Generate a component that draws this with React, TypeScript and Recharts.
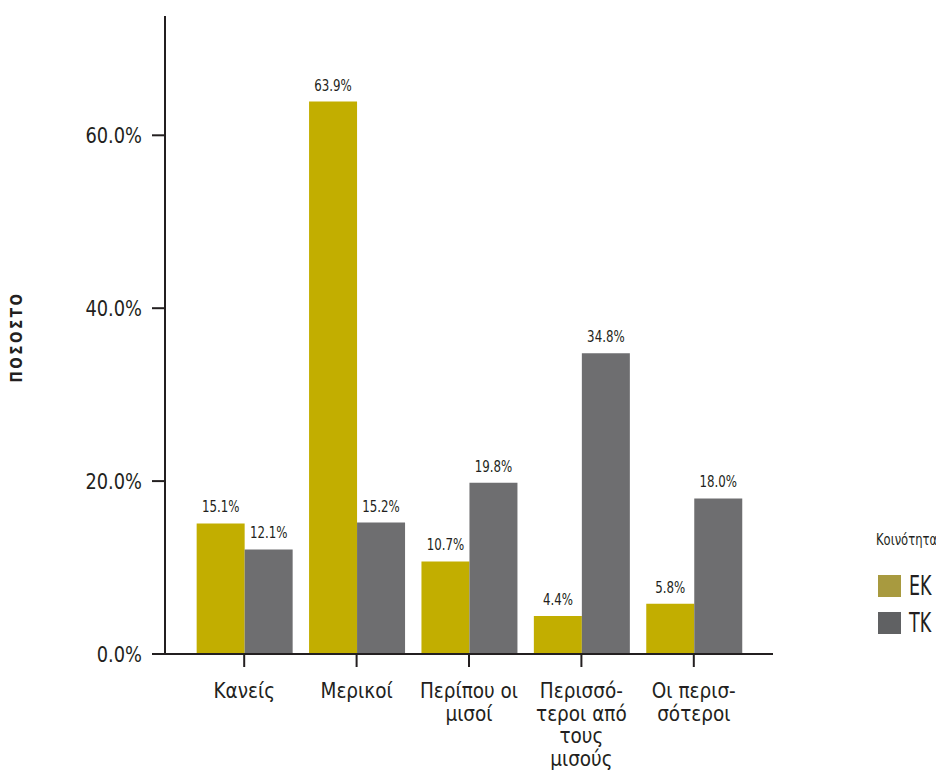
import React from "react";
import { BarChart, Bar, XAxis, YAxis, LabelList } from "recharts";

// Response categories (full names) and how they wrap under the axis
const categories = [
  "Κανείς",
  "Μερικοί",
  "Περίπου οι μισοί",
  "Περισσότεροι από τους μισούς",
  "Οι περισσότεροι",
];
const categoryLines = [
  ["Κανείς"],
  ["Μερικοί"],
  ["Περίπου οι", "μισοί"],
  ["Περισσό-", "τεροι από", "τους", "μισούς"],
  ["Οι περισ-", "σότεροι"],
];

// Percentages per community
const ekValues = [15.1, 63.9, 10.7, 4.4, 5.8];
const tkValues = [12.1, 15.2, 19.8, 34.8, 18.0];

const yTicks = [0, 20, 40, 60];
const yMax = 73.8;

const seriesNames = ["ΕΚ", "ΤΚ"];
const legendTitle = "Κοινότητα";
const yTitle = "ΠΟΣΟΣΤΟ";

const FONT = "'DejaVu Sans Condensed', 'Liberation Sans Narrow', sans-serif";
const INK = "#231f20";
const EK_COLOR = "#c2ae00";
const TK_COLOR = "#6e6e70";
const EK_SWATCH = "#a89a3f";
const TK_SWATCH = "#606163";

const data = categories.map((c, i) => ({
  name: c,
  ek: ekValues[i],
  tk: tkValues[i],
}));

const pct = (v: any) => `${Number(v).toFixed(1)}%`;

// Narrowed text: scales glyphs horizontally around the anchor point
function NarrowText(props: any) {
  const { x, y, scale, children, ...rest } = props;
  return (
    <g transform={`translate(${x},${y}) scale(${scale},1)`}>
      <text x={0} y={0} fill={INK} fontFamily={FONT} {...rest}>
        {children}
      </text>
    </g>
  );
}

function CategoryTick(props: any) {
  const { x, y, payload, index } = props;
  const lines = categoryLines[index] ?? [String(payload.value)];
  return (
    <text
      x={x}
      y={y + 31}
      textAnchor="middle"
      fill={INK}
      fontSize={20.5}
      fontFamily={FONT}
    >
      {lines.map((l: string, i: number) => (
        <tspan key={i} x={x} dy={i === 0 ? 0 : 22.5}>
          {l}
        </tspan>
      ))}
    </text>
  );
}

function ValueTick(props: any) {
  const { x, y, payload } = props;
  return (
    <NarrowText x={x} y={y + 8} scale={0.9} textAnchor="end" fontSize={22}>
      {pct(payload.value)}
    </NarrowText>
  );
}

function BarValue(props: any) {
  const { x, y, width, value } = props;
  return (
    <NarrowText x={Number(x) + Number(width) / 2} y={Number(y) - 11} scale={0.82} textAnchor="middle" fontSize={16}>
      {pct(value)}
    </NarrowText>
  );
}

function EmptyTick() {
  return <g />;
}

function YTitle(props: any) {
  const vb = props.viewBox || { x: 0, y: 0, height: 0 };
  const cx = vb.x + 9;
  const cy = vb.y + vb.height / 2 + 2;
  return (
    <text
      x={cx}
      y={cy}
      transform={`rotate(-90, ${cx}, ${cy})`}
      textAnchor="middle"
      dominantBaseline="central"
      fontSize={15}
      fontWeight="bold"
      letterSpacing={2.5}
      fill={INK}
      fontFamily={FONT}
    >
      {yTitle}
    </text>
  );
}

export default function App() {
  const swatches = [EK_SWATCH, TK_SWATCH];
  return (
    <div style={{ position: "relative", width: 936, height: 766, fontFamily: FONT }}>
      <BarChart
        width={936}
        height={766}
        data={data}
        margin={{ top: 8, right: 171, bottom: 0, left: 0 }}
        barCategoryGap="7.7%"
        barGap={0}
      >
        <XAxis
          xAxisId="edge"
          type="number"
          domain={[0, 1]}
          ticks={[0]}
          height={0}
          axisLine={false}
          tickSize={12}
          tickLine={{ stroke: INK, strokeWidth: 2 }}
          tick={EmptyTick}
        />
        <XAxis
          dataKey="name"
          height={120}
          padding={{ left: 23, right: 23 }}
          tickSize={13}
          tickMargin={0}
          axisLine={{ stroke: INK, strokeWidth: 2 }}
          tickLine={{ stroke: INK, strokeWidth: 2 }}
          tick={CategoryTick}
          interval={0}
        />
        <YAxis
          width={157}
          domain={[0, yMax]}
          ticks={yTicks}
          allowDataOverflow
          tickSize={13}
          tickMargin={10}
          axisLine={{ stroke: INK, strokeWidth: 2 }}
          tickLine={{ stroke: INK, strokeWidth: 2 }}
          tick={ValueTick}
          label={{ content: YTitle }}
        />
        <Bar dataKey="ek" name={seriesNames[0]} fill={EK_COLOR} isAnimationActive={false}>
          <LabelList dataKey="ek" content={BarValue} />
        </Bar>
        <Bar dataKey="tk" name={seriesNames[1]} fill={TK_COLOR} isAnimationActive={false}>
          <LabelList dataKey="tk" content={BarValue} />
        </Bar>
      </BarChart>
      <div
        style={{
          position: "absolute",
          left: 868,
          top: 522,
          color: INK,
          fontFamily: FONT,
          whiteSpace: "nowrap",
        }}
      >
        <div
          style={{
            fontSize: 15,
            lineHeight: "20px",
            height: 20,
            transform: "scaleX(0.86)",
            transformOrigin: "left center",
          }}
        >
          {legendTitle}
        </div>
        {seriesNames.map((n, i) => (
          <div
            key={n}
            style={{
              display: "flex",
              alignItems: "center",
              marginTop: i === 0 ? 25 : 15,
              marginLeft: 2,
              height: 22,
            }}
          >
            <span
              style={{
                display: "inline-block",
                width: 23,
                height: 22,
                background: swatches[i],
              }}
            />
            <span
              style={{
                display: "inline-block",
                fontSize: 27,
                marginLeft: 8,
                lineHeight: "22px",
                transform: "scaleX(0.72)",
                transformOrigin: "left center",
              }}
            >
              {n}
            </span>
          </div>
        ))}
      </div>
    </div>
  );
}
